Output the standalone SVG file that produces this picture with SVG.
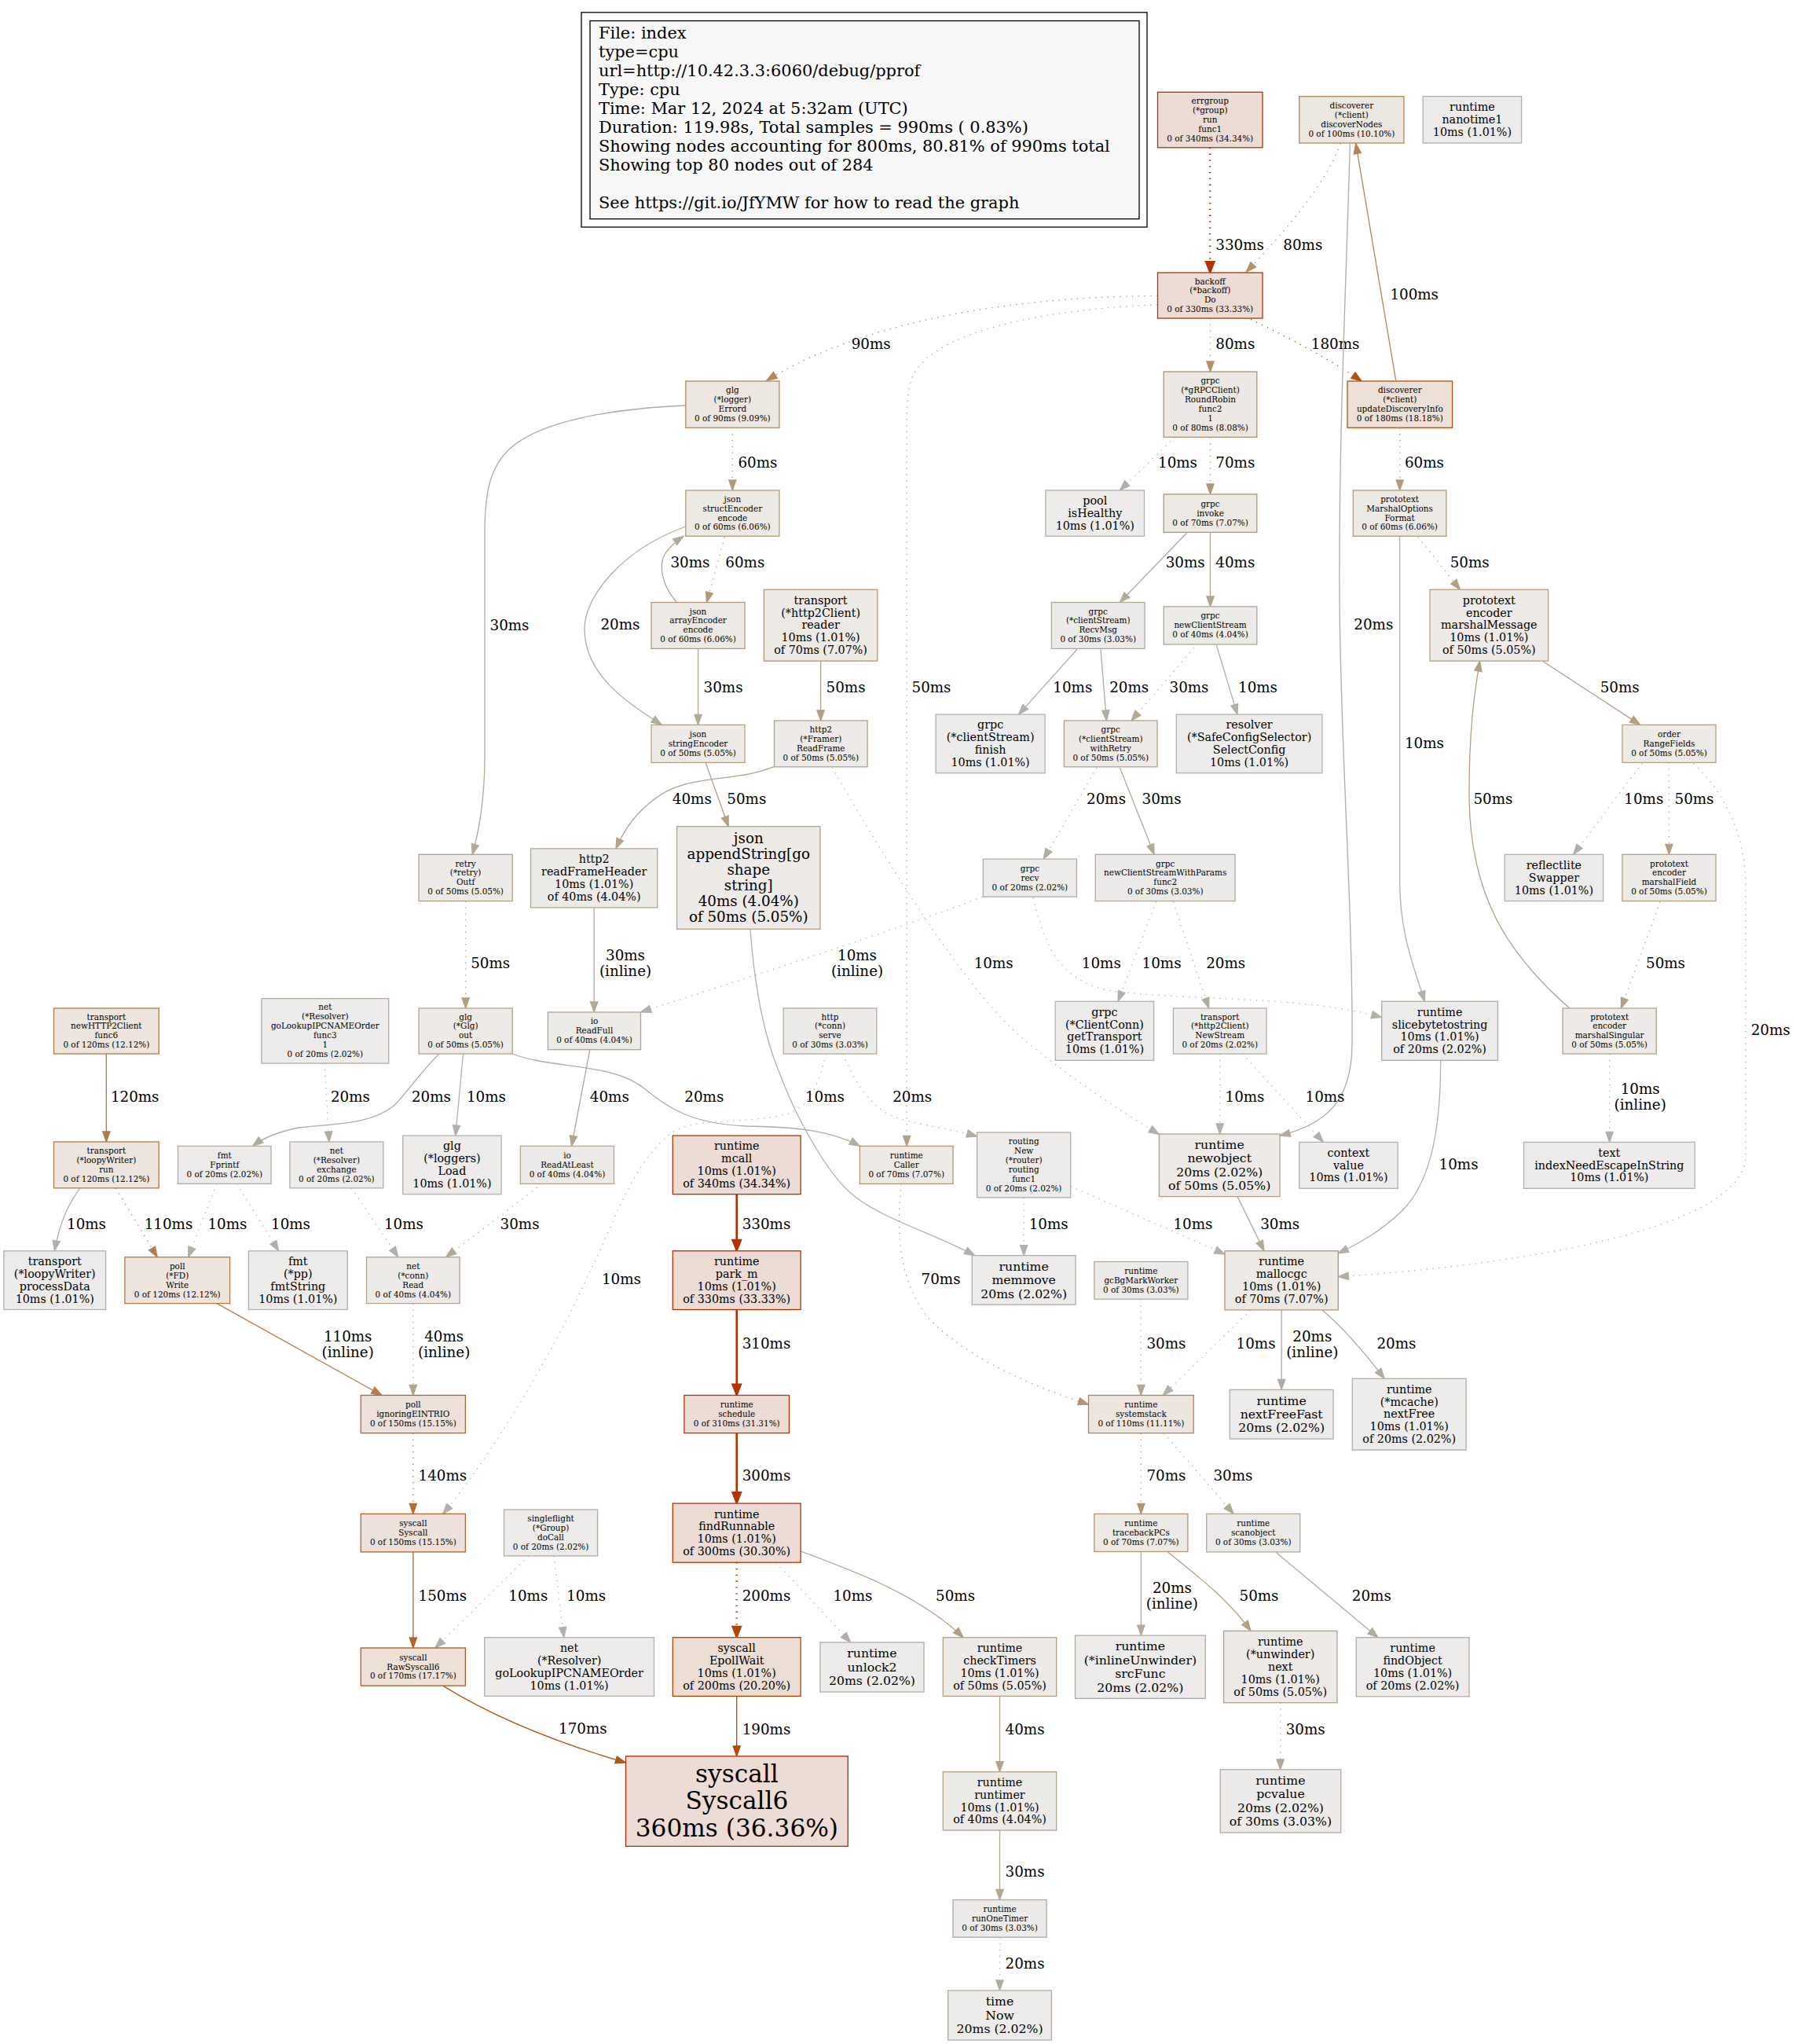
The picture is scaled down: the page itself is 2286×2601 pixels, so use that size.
<svg xmlns="http://www.w3.org/2000/svg" width="2286" height="2601" viewBox="0 0 2286 2601">
<style>
text{font-family:"DejaVu Serif","Liberation Serif",serif;fill:#000;stroke:none;text-anchor:middle}
.lg{font-size:20.9px;text-anchor:start}
.f8{font-size:10.45px}.f11{font-size:14.3px}.f12{font-size:15.7px}.f14{font-size:18.3px}.f24{font-size:31.2px}
.el{font-size:18.3px;text-anchor:start}.elm{font-size:18.3px;text-anchor:middle}
rect{stroke-width:1.3}
.e{fill:none;stroke-width:1.3}.b{stroke-width:2.6}.d{stroke-dasharray:1.3 6.5}
.c10{fill:#edeceb;stroke:#b2b0a9}.c20{fill:#edecea;stroke:#b2aca0}.c30{fill:#edebe9;stroke:#b2a997}.c40{fill:#edebe8;stroke:#b2a48e}
.c50{fill:#edeae7;stroke:#b2a085}.c60{fill:#edeae5;stroke:#b29b7c}.c70{fill:#ede9e4;stroke:#b29573}.c80{fill:#ede8e3;stroke:#b2906a}
.c90{fill:#ede7e2;stroke:#b28a61}.c100{fill:#ede7e1;stroke:#b28558}.c110{fill:#ede6df;stroke:#b27f4f}.c120{fill:#ede5de;stroke:#b27946}
.c150{fill:#ede2db;stroke:#b2652b}.c170{fill:#ede1d8;stroke:#b25819}.c180{fill:#ede0d7;stroke:#b25110}.c200{fill:#edded5;stroke:#b24400}
.c300{fill:#eddcd5;stroke:#b23500}.c310{fill:#eddcd5;stroke:#b23400}.c330{fill:#eddcd5;stroke:#b23200}.c340{fill:#eddbd5;stroke:#b23000}.c360{fill:#eddbd5;stroke:#b22e00}
.s10{stroke:#b2b0a9}.s20{stroke:#b2aca0}.s30{stroke:#b2a997}.s40{stroke:#b2a48e}.s50{stroke:#b2a085}.s60{stroke:#b29b7c}.s70{stroke:#b29573}
.s80{stroke:#b2906a}.s90{stroke:#b28a61}.s100{stroke:#b28558}.s110{stroke:#b27f4f}.s120{stroke:#b27946}.s140{stroke:#b26c34}.s150{stroke:#b2652b}
.s170{stroke:#b25819}.s180{stroke:#b25110}.s190{stroke:#b24a07}.s200{stroke:#b24400}.s300{stroke:#b23500}.s310{stroke:#b23400}.s330{stroke:#b23200}
</style>
<defs>
<marker id="a10" markerUnits="userSpaceOnUse" markerWidth="16" markerHeight="12" refX="13" refY="5" orient="auto" overflow="visible"><path d="M0,0.4 L13,5 L0,9.6 z" fill="#b2b0a9" stroke="#b2b0a9" stroke-width="1.3"/></marker>
<marker id="a20" markerUnits="userSpaceOnUse" markerWidth="16" markerHeight="12" refX="13" refY="5" orient="auto" overflow="visible"><path d="M0,0.4 L13,5 L0,9.6 z" fill="#b2aca0" stroke="#b2aca0" stroke-width="1.3"/></marker>
<marker id="a30" markerUnits="userSpaceOnUse" markerWidth="16" markerHeight="12" refX="13" refY="5" orient="auto" overflow="visible"><path d="M0,0.4 L13,5 L0,9.6 z" fill="#b2a997" stroke="#b2a997" stroke-width="1.3"/></marker>
<marker id="a40" markerUnits="userSpaceOnUse" markerWidth="16" markerHeight="12" refX="13" refY="5" orient="auto" overflow="visible"><path d="M0,0.4 L13,5 L0,9.6 z" fill="#b2a48e" stroke="#b2a48e" stroke-width="1.3"/></marker>
<marker id="a50" markerUnits="userSpaceOnUse" markerWidth="16" markerHeight="12" refX="13" refY="5" orient="auto" overflow="visible"><path d="M0,0.4 L13,5 L0,9.6 z" fill="#b2a085" stroke="#b2a085" stroke-width="1.3"/></marker>
<marker id="a60" markerUnits="userSpaceOnUse" markerWidth="16" markerHeight="12" refX="13" refY="5" orient="auto" overflow="visible"><path d="M0,0.4 L13,5 L0,9.6 z" fill="#b29b7c" stroke="#b29b7c" stroke-width="1.3"/></marker>
<marker id="a70" markerUnits="userSpaceOnUse" markerWidth="16" markerHeight="12" refX="13" refY="5" orient="auto" overflow="visible"><path d="M0,0.4 L13,5 L0,9.6 z" fill="#b29573" stroke="#b29573" stroke-width="1.3"/></marker>
<marker id="a80" markerUnits="userSpaceOnUse" markerWidth="16" markerHeight="12" refX="13" refY="5" orient="auto" overflow="visible"><path d="M0,0.4 L13,5 L0,9.6 z" fill="#b2906a" stroke="#b2906a" stroke-width="1.3"/></marker>
<marker id="a90" markerUnits="userSpaceOnUse" markerWidth="16" markerHeight="12" refX="13" refY="5" orient="auto" overflow="visible"><path d="M0,0.4 L13,5 L0,9.6 z" fill="#b28a61" stroke="#b28a61" stroke-width="1.3"/></marker>
<marker id="a100" markerUnits="userSpaceOnUse" markerWidth="16" markerHeight="12" refX="13" refY="5" orient="auto" overflow="visible"><path d="M0,0.4 L13,5 L0,9.6 z" fill="#b28558" stroke="#b28558" stroke-width="1.3"/></marker>
<marker id="a110" markerUnits="userSpaceOnUse" markerWidth="16" markerHeight="12" refX="13" refY="5" orient="auto" overflow="visible"><path d="M0,0.4 L13,5 L0,9.6 z" fill="#b27f4f" stroke="#b27f4f" stroke-width="1.3"/></marker>
<marker id="a120" markerUnits="userSpaceOnUse" markerWidth="16" markerHeight="12" refX="13" refY="5" orient="auto" overflow="visible"><path d="M0,0.4 L13,5 L0,9.6 z" fill="#b27946" stroke="#b27946" stroke-width="1.3"/></marker>
<marker id="a140" markerUnits="userSpaceOnUse" markerWidth="16" markerHeight="12" refX="13" refY="5" orient="auto" overflow="visible"><path d="M0,0.4 L13,5 L0,9.6 z" fill="#b26c34" stroke="#b26c34" stroke-width="1.3"/></marker>
<marker id="a150" markerUnits="userSpaceOnUse" markerWidth="16" markerHeight="12" refX="13" refY="5" orient="auto" overflow="visible"><path d="M0,0.4 L13,5 L0,9.6 z" fill="#b2652b" stroke="#b2652b" stroke-width="1.3"/></marker>
<marker id="a170" markerUnits="userSpaceOnUse" markerWidth="16" markerHeight="12" refX="13" refY="5" orient="auto" overflow="visible"><path d="M0,0.4 L13,5 L0,9.6 z" fill="#b25819" stroke="#b25819" stroke-width="1.3"/></marker>
<marker id="a180" markerUnits="userSpaceOnUse" markerWidth="16" markerHeight="12" refX="13" refY="5" orient="auto" overflow="visible"><path d="M0,0.4 L13,5 L0,9.6 z" fill="#b25110" stroke="#b25110" stroke-width="1.3"/></marker>
<marker id="a190" markerUnits="userSpaceOnUse" markerWidth="16" markerHeight="12" refX="13" refY="5" orient="auto" overflow="visible"><path d="M0,0.4 L13,5 L0,9.6 z" fill="#b24a07" stroke="#b24a07" stroke-width="1.3"/></marker>
<marker id="a200" markerUnits="userSpaceOnUse" markerWidth="18" markerHeight="14" refX="14" refY="6" orient="auto" overflow="visible"><path d="M0,0.5 L14,6 L0,11.5 z" fill="#b24400" stroke="#b24400" stroke-width="2"/></marker>
<marker id="a300" markerUnits="userSpaceOnUse" markerWidth="18" markerHeight="14" refX="14" refY="6" orient="auto" overflow="visible"><path d="M0,0.5 L14,6 L0,11.5 z" fill="#b23500" stroke="#b23500" stroke-width="2"/></marker>
<marker id="a310" markerUnits="userSpaceOnUse" markerWidth="18" markerHeight="14" refX="14" refY="6" orient="auto" overflow="visible"><path d="M0,0.5 L14,6 L0,11.5 z" fill="#b23400" stroke="#b23400" stroke-width="2"/></marker>
<marker id="a330" markerUnits="userSpaceOnUse" markerWidth="18" markerHeight="14" refX="14" refY="6" orient="auto" overflow="visible"><path d="M0,0.5 L14,6 L0,11.5 z" fill="#b23200" stroke="#b23200" stroke-width="2"/></marker>
</defs>
<rect x="0" y="0" width="2286" height="2601" fill="#fff" stroke="none"/>
<g id="legend">
<rect x="740" y="15.8" width="720" height="273.2" fill="#fff" stroke="#000"/>
<rect x="751" y="26.5" width="699" height="252.1" fill="#f8f8f8" stroke="#000"/>
<text class="lg" x="762" y="49"><tspan x="762">File: index</tspan><tspan x="762" dy="24.05">type=cpu</tspan><tspan x="762" dy="24.05">url=http://10.42.3.3:6060/debug/pprof</tspan><tspan x="762" dy="24.05">Type: cpu</tspan><tspan x="762" dy="24.05">Time: Mar 12, 2024 at 5:32am (UTC)</tspan><tspan x="762" dy="24.05">Duration: 119.98s, Total samples = 990ms ( 0.83%)</tspan><tspan x="762" dy="24.05">Showing nodes accounting for 800ms, 80.81% of 990ms total</tspan><tspan x="762" dy="24.05">Showing top 80 nodes out of 284</tspan><tspan x="762" dy="48.1">See https://git.io/JfYMW for how to read the graph</tspan></text>
</g>
<g id="edges">
<g id="e1"><path class="e s330 b d" d="M1540.25,187.8 L1540.25,347" marker-end="url(#a330)"/><text class="el" x="1547.3" y="318.3">330ms</text></g>
<g id="e2"><path class="e s80 d" d="M1706.2,182.4 C1690,230 1640,290 1586.2,346.1" marker-end="url(#a80)"/><text class="el" x="1633.3" y="318.3">80ms</text></g>
<g id="e3"><path class="e s180 d" d="M1592,406.3 C1640,430 1690,455 1733,485" marker-end="url(#a180)"/><text class="el" x="1668.8" y="444.4">180ms</text></g>
<g id="e4"><path class="e s100" d="M1776.7,484.2 L1725.7,182.4" marker-end="url(#a100)"/><text class="el" x="1769.4" y="380.9">100ms</text></g>
<g id="e5"><path class="e s20" d="M1718.4,182.4 C1712,400 1704,560 1705,760 C1706,950 1722,1150 1721,1330 C1720,1400 1690,1430 1629,1445" marker-end="url(#a20)"/><text class="el" x="1723.3" y="801.3">20ms</text></g>
<g id="e6"><path class="e s90 d" d="M1473.5,376.4 C1250,378 1080,420 975.8,484.2" marker-end="url(#a90)"/><text class="el" x="1083.7" y="444.4">90ms</text></g>
<g id="e7"><path class="e s50 d" d="M1473.5,387.6 C1300,395 1170,430 1158,490 C1155,505 1154.2,520 1154.2,540 L1154.2,1458.4" marker-end="url(#a50)"/><text class="el" x="1160.5" y="880.5">50ms</text></g>
<g id="e8"><path class="e s80 d" d="M1540.5,405 L1540.5,473" marker-end="url(#a80)"/><text class="el" x="1547.3" y="444.4">80ms</text></g>
<g id="e9"><path class="e s60 d" d="M932.35,544.3 L932.35,623.9" marker-end="url(#a60)"/><text class="el" x="939.4" y="595.3">60ms</text></g>
<g id="e10"><path class="e s30" d="M872.8,516 C780,520 690,535 650,570 C622,595 617,630 617,680 L617,960 C617,1010 612,1050 601.2,1087.3" marker-end="url(#a30)"/><text class="el" x="623.5" y="801.7">30ms</text></g>
<g id="e11"><path class="e s10 d" d="M1495.8,556.3 L1425.4,623.9" marker-end="url(#a10)"/><text class="el" x="1474" y="595.3">10ms</text></g>
<g id="e12"><path class="e s70 d" d="M1540.5,556.3 L1540.5,628.9" marker-end="url(#a70)"/><text class="el" x="1547.3" y="595.3">70ms</text></g>
<g id="e13"><path class="e s60 d" d="M1781.7,544.3 L1781.7,623.9" marker-end="url(#a60)"/><text class="el" x="1787.9" y="595.3">60ms</text></g>
<g id="e14"><path class="e s60 d" d="M922.4,683.2 L899.5,766.5" marker-end="url(#a60)"/><text class="el" x="923.3" y="722.1">60ms</text></g>
<g id="e15"><path class="e s30" d="M861.6,766.5 C842,745 836,715 850,700 C857,692 863,687 869.9,682.3" marker-end="url(#a30)"/><text class="el" x="853.4" y="722.1">30ms</text></g>
<g id="e16"><path class="e s20" d="M872.8,670 C790,700 744,760 744,800 C744,860 800,895 842.2,922.4" marker-end="url(#a20)"/><text class="el" x="764.4" y="801.3">20ms</text></g>
<g id="e17"><path class="e s30" d="M888.55,825.4 L888.55,922.4" marker-end="url(#a30)"/><text class="el" x="895.6" y="880.5">30ms</text></g>
<g id="e18"><path class="e s50" d="M1044.6,841.1 L1044.6,917" marker-end="url(#a50)"/><text class="el" x="1051.6" y="880.5">50ms</text></g>
<g id="e19"><path class="e s50" d="M898.1,970.4 L927.2,1051.7" marker-end="url(#a50)"/><text class="el" x="925.3" y="1023.1">50ms</text></g>
<g id="e20"><path class="e s40" d="M985.5,975.4 C940,995 880,985 840,1012 C810,1032 795,1055 783.9,1079.9" marker-end="url(#a40)"/><text class="el" x="855.8" y="1023.1">40ms</text></g>
<g id="e21"><path class="e s10 d" d="M1059.4,976.7 C1130,1100 1230,1260 1300,1320 C1360,1370 1420,1410 1475.4,1443.5" marker-end="url(#a10)"/><text class="el" x="1239.7" y="1232.4">10ms</text></g>
<g id="e22"><path class="e s30" d="M1510.4,678.2 L1425.4,766.5" marker-end="url(#a30)"/><text class="el" x="1483.7" y="722.1">30ms</text></g>
<g id="e23"><path class="e s40" d="M1540.5,677.4 L1540.5,771.9" marker-end="url(#a40)"/><text class="el" x="1547.3" y="722.1">40ms</text></g>
<g id="e24"><path class="e s50 d" d="M1804.9,683.2 L1858.4,750.3" marker-end="url(#a50)"/><text class="el" x="1845.7" y="722.1">50ms</text></g>
<g id="e25"><path class="e s10" d="M1781.6,682.3 L1781.6,1120 C1781.6,1190 1800,1230 1813.2,1274.3" marker-end="url(#a10)"/><text class="el" x="1787.9" y="952.2">10ms</text></g>
<g id="e26"><path class="e s10" d="M1371,826.2 L1296.6,909.1" marker-end="url(#a10)"/><text class="el" x="1340.3" y="880.5">10ms</text></g>
<g id="e27"><path class="e s20" d="M1401,826.2 L1408.4,917" marker-end="url(#a20)"/><text class="el" x="1412.2" y="880.5">20ms</text></g>
<g id="e28"><path class="e s30 d" d="M1520.1,824.1 L1440,917" marker-end="url(#a30)"/><text class="el" x="1488.5" y="880.5">30ms</text></g>
<g id="e29"><path class="e s10" d="M1548.3,820.8 L1575,909.1" marker-end="url(#a10)"/><text class="el" x="1576" y="880.5">10ms</text></g>
<g id="e30"><path class="e s50" d="M1963.8,841.5 L2087.7,922.4" marker-end="url(#a50)"/><text class="el" x="2036.7" y="880.5">50ms</text></g>
<g id="e31"><path class="e s50" d="M1997.8,1283 C1920,1215 1870,1140 1870,1010 C1870,930 1876,885 1883.6,841.1" marker-end="url(#a50)"/><text class="el" x="1875.4" y="1023.1">50ms</text></g>
<g id="e32"><path class="e s20 d" d="M1396.2,976.7 L1328.2,1093.1" marker-end="url(#a20)"/><text class="el" x="1383.1" y="1023.1">20ms</text></g>
<g id="e33"><path class="e s30" d="M1425.4,976.7 L1469.1,1087.3" marker-end="url(#a30)"/><text class="el" x="1453.6" y="1023.1">30ms</text></g>
<g id="e34"><path class="e s10 d" d="M2090.2,971 L2002.7,1087.3" marker-end="url(#a10)"/><text class="el" x="2067.3" y="1023.1">10ms</text></g>
<g id="e35"><path class="e s50 d" d="M2124.45,970.4 L2124.45,1087.3" marker-end="url(#a50)"/><text class="el" x="2131.5" y="1023.1">50ms</text></g>
<g id="e36"><path class="e s20 d" d="M2155.8,971.3 C2195,1010 2222,1060 2222,1130 L2222,1470 C2222,1570 1900,1612 1703.3,1624.6" marker-end="url(#a20)"/><text class="el" x="2228.7" y="1317">20ms</text></g>
<g id="e37"><path class="e s50 d" d="M2113,1147.5 L2063.4,1283" marker-end="url(#a50)"/><text class="el" x="2095" y="1232.4">50ms</text></g>
<g id="e38"><path class="e s10 d" d="M1250.4,1141.2 C1150,1180 950,1245 815.5,1288" marker-end="url(#a10)"/><text class="elm" x="1091" y="1222.4">10ms<tspan x="1091" dy="20">(inline)</tspan></text></g>
<g id="e39"><path class="e s10 d" d="M1315,1142.5 C1330,1200 1345,1255 1430,1263 C1550,1274 1660,1268 1758.7,1294.6" marker-end="url(#a10)"/><text class="el" x="1376.8" y="1232.4">10ms</text></g>
<g id="e40"><path class="e s10 d" d="M1471.5,1147.5 L1423,1274.3" marker-end="url(#a10)"/><text class="el" x="1453.6" y="1232.4">10ms</text></g>
<g id="e41"><path class="e s20 d" d="M1493.4,1147.5 L1538.6,1283" marker-end="url(#a20)"/><text class="el" x="1535.2" y="1232.4">20ms</text></g>
<g id="e42"><path class="e s50 d" d="M592.65,1146.6 L592.65,1283" marker-end="url(#a50)"/><text class="el" x="599.2" y="1232.4">50ms</text></g>
<g id="e43"><path class="e s30" d="M756.15,1154.9 L756.15,1288" marker-end="url(#a30)"/><text class="elm" x="796" y="1222.4">30ms<tspan x="796" dy="20">(inline)</tspan></text></g>
<g id="e44"><path class="e s10" d="M955,1182.7 C960,1250 970,1310 990,1360 C1020,1440 1060,1500 1085,1520 C1120,1550 1190,1570 1240.7,1597.6" marker-end="url(#a10)"/><text class="el" x="1024.9" y="1401.9">10ms</text></g>
<g id="e45"><path class="e s120" d="M135.35,1341 L135.35,1453" marker-end="url(#a120)"/><text class="el" x="140.9" y="1401.9">120ms</text></g>
<g id="e46"><path class="e s20 d" d="M413.1,1353.1 L418.9,1453" marker-end="url(#a20)"/><text class="el" x="420.9" y="1401.9">20ms</text></g>
<g id="e47"><path class="e s20" d="M558.9,1341 C530,1370 515,1395 500,1408 C470,1432 420,1430 380,1435 C355,1440 335,1448 321.7,1458.4" marker-end="url(#a20)"/><text class="el" x="523.9" y="1401.9">20ms</text></g>
<g id="e48"><path class="e s10" d="M589.5,1341 L579.8,1445.1" marker-end="url(#a10)"/><text class="el" x="593.9" y="1401.9">10ms</text></g>
<g id="e49"><path class="e s20" d="M652.2,1341 C700,1360 780,1352 820,1385 C850,1410 880,1430 950,1433 C1020,1434 1060,1440 1094.4,1458.4" marker-end="url(#a20)"/><text class="el" x="871.3" y="1401.9">20ms</text></g>
<g id="e50"><path class="e s40" d="M750.8,1335.7 L727.5,1458.4" marker-end="url(#a40)"/><text class="el" x="750.8" y="1401.9">40ms</text></g>
<g id="e51"><path class="e s20 d" d="M1073,1341 C1090,1380 1110,1415 1150,1425 C1190,1435 1215,1438 1243.6,1446" marker-end="url(#a20)"/><text class="el" x="1136.2" y="1401.9">20ms</text></g>
<g id="e52"><path class="e s10 d" d="M1051.6,1341 C1040,1385 1030,1410 1000,1418 C940,1432 880,1420 850,1445 C800,1490 780,1560 750,1620 C700,1730 620,1860 563.7,1926.4" marker-end="url(#a10)"/><text class="el" x="765.9" y="1634.1">10ms</text></g>
<g id="e53"><path class="e s10 d" d="M1552.7,1341 L1552.7,1443" marker-end="url(#a10)"/><text class="el" x="1559.5" y="1401.9">10ms</text></g>
<g id="e54"><path class="e s10 d" d="M1581.3,1341 L1684.4,1453.4" marker-end="url(#a10)"/><text class="el" x="1661.5" y="1401.9">10ms</text></g>
<g id="e55"><path class="e s10 d" d="M2048.65,1341 L2048.65,1453.4" marker-end="url(#a10)"/><text class="elm" x="2087.7" y="1392.4">10ms<tspan x="2087.7" dy="20">(inline)</tspan></text></g>
<g id="e56"><path class="e s10" d="M1833.6,1349.3 C1834,1440 1820,1510 1780,1545 C1755,1568 1730,1582 1703.3,1595" marker-end="url(#a10)"/><text class="el" x="1831.6" y="1488.2">10ms</text></g>
<g id="e57"><path class="e s10" d="M102,1511.8 C88,1530 76,1555 69.5,1591.8" marker-end="url(#a10)"/><text class="el" x="85" y="1563.6">10ms</text></g>
<g id="e58"><path class="e s110 d" d="M147.3,1511.8 L200.2,1599.7" marker-end="url(#a110)"/><text class="el" x="183.7" y="1563.6">110ms</text></g>
<g id="e59"><path class="e s10 d" d="M275.5,1506.4 L239.6,1599.7" marker-end="url(#a10)"/><text class="el" x="264.4" y="1563.6">10ms</text></g>
<g id="e60"><path class="e s10 d" d="M301.3,1506.4 L354.8,1591.8" marker-end="url(#a10)"/><text class="el" x="345" y="1563.6">10ms</text></g>
<g id="e61"><path class="e s10 d" d="M447.1,1511.8 L506.9,1599.7" marker-end="url(#a10)"/><text class="el" x="488.9" y="1563.6">10ms</text></g>
<g id="e62"><path class="e s30 d" d="M690.1,1506.4 L567.6,1599.7" marker-end="url(#a30)"/><text class="el" x="636.6" y="1563.6">30ms</text></g>
<g id="e63"><path class="e s330 b" d="M937.7,1519.7 L937.7,1591.8" marker-end="url(#a330)"/><text class="el" x="944.7" y="1563.6">330ms</text></g>
<g id="e64"><path class="e s10 d" d="M1303.15,1523.9 L1303.15,1597.6" marker-end="url(#a10)"/><text class="el" x="1309.7" y="1563.6">10ms</text></g>
<g id="e65"><path class="e s10 d" d="M1362.7,1509.4 L1559,1596" marker-end="url(#a10)"/><text class="el" x="1493.4" y="1563.6">10ms</text></g>
<g id="e66"><path class="e s30" d="M1575,1522.6 L1609,1591.8" marker-end="url(#a30)"/><text class="el" x="1604.2" y="1563.6">30ms</text></g>
<g id="e67"><path class="e s70 d" d="M1147.4,1506.4 C1140,1570 1145,1630 1180,1675 C1220,1720 1300,1760 1385.5,1787.1" marker-end="url(#a70)"/><text class="el" x="1172.6" y="1634.1">70ms</text></g>
<g id="e68"><path class="e s110" d="M276,1658.6 L486,1775.5" marker-end="url(#a110)"/><text class="elm" x="442.7" y="1706.6">110ms<tspan x="442.7" dy="20">(inline)</tspan></text></g>
<g id="e69"><path class="e s40 d" d="M525.8,1658.6 L525.8,1775.5" marker-end="url(#a40)"/><text class="elm" x="565.2" y="1706.6">40ms<tspan x="565.2" dy="20">(inline)</tspan></text></g>
<g id="e70"><path class="e s310 b" d="M937.7,1666.5 L937.7,1775.5" marker-end="url(#a310)"/><text class="el" x="944.7" y="1716.2">310ms</text></g>
<g id="e71"><path class="e s30 d" d="M1452.35,1653.2 L1452.35,1775.5" marker-end="url(#a30)"/><text class="el" x="1459.4" y="1716.2">30ms</text></g>
<g id="e72"><path class="e s10 d" d="M1592,1666.9 L1480.3,1775.5" marker-end="url(#a10)"/><text class="el" x="1573.6" y="1716.2">10ms</text></g>
<g id="e73"><path class="e s20" d="M1631.15,1666.9 L1631.15,1768.4" marker-end="url(#a20)"/><text class="elm" x="1670.3" y="1706.6">20ms<tspan x="1670.3" dy="20">(inline)</tspan></text></g>
<g id="e74"><path class="e s20" d="M1683,1666.9 C1710,1690 1740,1725 1762.1,1754.3" marker-end="url(#a20)"/><text class="el" x="1752.4" y="1716.2">20ms</text></g>
<g id="e75"><path class="e s140 d" d="M525.85,1823.6 L525.85,1926.4" marker-end="url(#a140)"/><text class="el" x="532.6" y="1884.1">140ms</text></g>
<g id="e76"><path class="e s300 b" d="M937.7,1823.6 L937.7,1913.1" marker-end="url(#a300)"/><text class="el" x="944.7" y="1884.1">300ms</text></g>
<g id="e77"><path class="e s70 d" d="M1452.35,1823.6 L1452.35,1926.4" marker-end="url(#a70)"/><text class="el" x="1459.4" y="1884.1">70ms</text></g>
<g id="e78"><path class="e s30 d" d="M1481.3,1823.6 L1570.2,1926.4" marker-end="url(#a30)"/><text class="el" x="1544.4" y="1884.1">30ms</text></g>
<g id="e79"><path class="e s150" d="M525.85,1974.9 L525.85,2097" marker-end="url(#a150)"/><text class="el" x="532.6" y="2037.1">150ms</text></g>
<g id="e80"><path class="e s10 d" d="M673,1979.9 L554,2097" marker-end="url(#a10)"/><text class="el" x="647.3" y="2037.1">10ms</text></g>
<g id="e81"><path class="e s10 d" d="M704.7,1979.9 L717.8,2083.7" marker-end="url(#a10)"/><text class="el" x="721.2" y="2037.1">10ms</text></g>
<g id="e82"><path class="e s200 b d" d="M937.7,1988.2 L937.7,2083.7" marker-end="url(#a200)"/><text class="el" x="944.7" y="2037.1">200ms</text></g>
<g id="e83"><path class="e s10 d" d="M988,1988.2 L1082.7,2089.9" marker-end="url(#a10)"/><text class="el" x="1060.4" y="2037.1">10ms</text></g>
<g id="e84"><path class="e s50" d="M1019.1,1974 C1090,2000 1170,2030 1226.1,2083.7" marker-end="url(#a50)"/><text class="el" x="1191.1" y="2037.1">50ms</text></g>
<g id="e85"><path class="e s20" d="M1452.35,1974.5 L1452.35,2081.2" marker-end="url(#a20)"/><text class="elm" x="1491.9" y="2027.2">20ms<tspan x="1491.9" dy="20">(inline)</tspan></text></g>
<g id="e86"><path class="e s50" d="M1486,1974.5 C1510,1995 1560,2030 1592,2075.4" marker-end="url(#a50)"/><text class="el" x="1577.5" y="2037.1">50ms</text></g>
<g id="e87"><path class="e s20" d="M1623.6,1974.9 L1753.9,2083.7" marker-end="url(#a20)"/><text class="el" x="1720.8" y="2037.1">20ms</text></g>
<g id="e88"><path class="e s170" d="M563.7,2145.1 C620,2180 700,2215 796.5,2243" marker-end="url(#a170)"/><text class="el" x="711" y="2205.7">170ms</text></g>
<g id="e89"><path class="e s190" d="M937.7,2158.4 L937.7,2234.8" marker-end="url(#a190)"/><text class="el" x="944.7" y="2206.6">190ms</text></g>
<g id="e90"><path class="e s40" d="M1272.5,2158.4 L1272.5,2254.7" marker-end="url(#a40)"/><text class="el" x="1279.6" y="2206.6">40ms</text></g>
<g id="e91"><path class="e s30 d" d="M1629.7,2166.7 L1629.7,2251.8" marker-end="url(#a30)"/><text class="el" x="1636.7" y="2206.6">30ms</text></g>
<g id="e92"><path class="e s30" d="M1272.5,2329 L1272.5,2417.5" marker-end="url(#a30)"/><text class="el" x="1279.6" y="2388.4">30ms</text></g>
<g id="e93"><path class="e s20 d" d="M1272.5,2465.2 L1272.5,2532.9" marker-end="url(#a20)"/><text class="el" x="1279.6" y="2504.6">20ms</text></g>
</g>
<g id="nodes">
<g id="n1"><rect class="c340" x="1473.5" y="117.3" width="133.5" height="70.5"/><text class="f8" y="132.1"><tspan x="1540.25">errgroup</tspan><tspan x="1540.25" dy="11.95">(*group)</tspan><tspan x="1540.25" dy="11.95">run</tspan><tspan x="1540.25" dy="11.95">func1</tspan><tspan x="1540.25" dy="11.95">0 of 340ms (34.34%)</tspan></text></g>
<g id="n2"><rect class="c100" x="1653.8" y="122.7" width="133.1" height="59.3"/><text class="f8" y="137.9"><tspan x="1720.35">discoverer</tspan><tspan x="1720.35" dy="11.95">(*client)</tspan><tspan x="1720.35" dy="11.95">discoverNodes</tspan><tspan x="1720.35" dy="11.95">0 of 100ms (10.10%)</tspan></text></g>
<g id="n3"><rect class="c10" x="1811.2" y="122.7" width="125.4" height="59.3"/><text class="f11" y="141.15"><tspan x="1873.9">runtime</tspan><tspan x="1873.9" dy="15.9">nanotime1</tspan><tspan x="1873.9" dy="15.9">10ms (1.01%)</tspan></text></g>
<g id="n4"><rect class="c330" x="1473.5" y="347" width="133.5" height="58"/><text class="f8" y="361.5"><tspan x="1540.25">backoff</tspan><tspan x="1540.25" dy="11.95">(*backoff)</tspan><tspan x="1540.25" dy="11.95">Do</tspan><tspan x="1540.25" dy="11.95">0 of 330ms (33.33%)</tspan></text></g>
<g id="n5"><rect class="c90" x="872.8" y="485" width="119.1" height="59.3"/><text class="f8" y="500.2"><tspan x="932.35">glg</tspan><tspan x="932.35" dy="11.95">(*logger)</tspan><tspan x="932.35" dy="11.95">Errord</tspan><tspan x="932.35" dy="11.95">0 of 90ms (9.09%)</tspan></text></g>
<g id="n6"><rect class="c80" x="1481.2" y="473" width="118.6" height="83.3"/><text class="f8" y="488.2"><tspan x="1540.5">grpc</tspan><tspan x="1540.5" dy="11.95">(*gRPCClient)</tspan><tspan x="1540.5" dy="11.95">RoundRobin</tspan><tspan x="1540.5" dy="11.95">func2</tspan><tspan x="1540.5" dy="11.95">1</tspan><tspan x="1540.5" dy="11.95">0 of 80ms (8.08%)</tspan></text></g>
<g id="n7"><rect class="c180" x="1715" y="485" width="133.6" height="59.3"/><text class="f8" y="500.2"><tspan x="1781.8">discoverer</tspan><tspan x="1781.8" dy="11.95">(*client)</tspan><tspan x="1781.8" dy="11.95">updateDiscoveryInfo</tspan><tspan x="1781.8" dy="11.95">0 of 180ms (18.18%)</tspan></text></g>
<g id="n8"><rect class="c10" x="1331" y="623.9" width="125.5" height="58.4"/><text class="f11" y="641.9"><tspan x="1393.75">pool</tspan><tspan x="1393.75" dy="15.9">isHealthy</tspan><tspan x="1393.75" dy="15.9">10ms (1.01%)</tspan></text></g>
<g id="n9"><rect class="c60" x="872.8" y="623.9" width="119.1" height="58.4"/><text class="f8" y="638.6"><tspan x="932.35">json</tspan><tspan x="932.35" dy="11.95">structEncoder</tspan><tspan x="932.35" dy="11.95">encode</tspan><tspan x="932.35" dy="11.95">0 of 60ms (6.06%)</tspan></text></g>
<g id="n10"><rect class="c70" x="1481.2" y="628.9" width="118.6" height="48.5"/><text class="f8" y="644.65"><tspan x="1540.5">grpc</tspan><tspan x="1540.5" dy="11.95">invoke</tspan><tspan x="1540.5" dy="11.95">0 of 70ms (7.07%)</tspan></text></g>
<g id="n11"><rect class="c60" x="1722.3" y="623.9" width="118.6" height="58.4"/><text class="f8" y="638.6"><tspan x="1781.6">prototext</tspan><tspan x="1781.6" dy="11.95">MarshalOptions</tspan><tspan x="1781.6" dy="11.95">Format</tspan><tspan x="1781.6" dy="11.95">0 of 60ms (6.06%)</tspan></text></g>
<g id="n12"><rect class="c60" x="829" y="766.5" width="119.1" height="58.9"/><text class="f8" y="781.5"><tspan x="888.55">json</tspan><tspan x="888.55" dy="11.95">arrayEncoder</tspan><tspan x="888.55" dy="11.95">encode</tspan><tspan x="888.55" dy="11.95">0 of 60ms (6.06%)</tspan></text></g>
<g id="n13"><rect class="c70" x="972.4" y="750.3" width="144.4" height="90.8"/><text class="f11" y="768.6"><tspan x="1044.6">transport</tspan><tspan x="1044.6" dy="15.9">(*http2Client)</tspan><tspan x="1044.6" dy="15.9">reader</tspan><tspan x="1044.6" dy="15.9">10ms (1.01%)</tspan><tspan x="1044.6" dy="15.9">of 70ms (7.07%)</tspan></text></g>
<g id="n14"><rect class="c50" x="829" y="922.4" width="119.1" height="48"/><text class="f8" y="937.9"><tspan x="888.55">json</tspan><tspan x="888.55" dy="11.95">stringEncoder</tspan><tspan x="888.55" dy="11.95">0 of 50ms (5.05%)</tspan></text></g>
<g id="n15"><rect class="c50" x="985.5" y="917" width="118.6" height="58.8"/><text class="f8" y="931.9"><tspan x="1044.8">http2</tspan><tspan x="1044.8" dy="11.95">(*Framer)</tspan><tspan x="1044.8" dy="11.95">ReadFrame</tspan><tspan x="1044.8" dy="11.95">0 of 50ms (5.05%)</tspan></text></g>
<g id="n16"><rect class="c50" x="861.6" y="1051.7" width="182.3" height="130.6"/><text class="f14" y="1073.3"><tspan x="952.75">json</tspan><tspan x="952.75" dy="19.9">appendString[go</tspan><tspan x="952.75" dy="19.9">shape</tspan><tspan x="952.75" dy="19.9">string]</tspan><tspan x="952.75" dy="19.9">40ms (4.04%)</tspan><tspan x="952.75" dy="19.9">of 50ms (5.05%)</tspan></text></g>
<g id="n17"><rect class="c40" x="675.5" y="1079.9" width="161.3" height="75"/><text class="f11" y="1098.25"><tspan x="756.15">http2</tspan><tspan x="756.15" dy="15.9">readFrameHeader</tspan><tspan x="756.15" dy="15.9">10ms (1.01%)</tspan><tspan x="756.15" dy="15.9">of 40ms (4.04%)</tspan></text></g>
<g id="n18"><rect class="c50" x="533.1" y="1087.3" width="119.1" height="59.3"/><text class="f8" y="1102.5"><tspan x="592.65">retry</tspan><tspan x="592.65" dy="11.95">(*retry)</tspan><tspan x="592.65" dy="11.95">Outf</tspan><tspan x="592.65" dy="11.95">0 of 50ms (5.05%)</tspan></text></g>
<g id="n19"><rect class="c30" x="1338.4" y="766.5" width="118.6" height="58.9"/><text class="f8" y="781.5"><tspan x="1397.7">grpc</tspan><tspan x="1397.7" dy="11.95">(*clientStream)</tspan><tspan x="1397.7" dy="11.95">RecvMsg</tspan><tspan x="1397.7" dy="11.95">0 of 30ms (3.03%)</tspan></text></g>
<g id="n20"><rect class="c40" x="1481.2" y="771.9" width="118.6" height="48.1"/><text class="f8" y="787.45"><tspan x="1540.5">grpc</tspan><tspan x="1540.5" dy="11.95">newClientStream</tspan><tspan x="1540.5" dy="11.95">0 of 40ms (4.04%)</tspan></text></g>
<g id="n21"><rect class="c50" x="1820" y="750.3" width="150.6" height="90.8"/><text class="f11" y="768.6"><tspan x="1895.3">prototext</tspan><tspan x="1895.3" dy="15.9">encoder</tspan><tspan x="1895.3" dy="15.9">marshalMessage</tspan><tspan x="1895.3" dy="15.9">10ms (1.01%)</tspan><tspan x="1895.3" dy="15.9">of 50ms (5.05%)</tspan></text></g>
<g id="n22"><rect class="c10" x="1191.1" y="909.1" width="139" height="74.6"/><text class="f11" y="927.25"><tspan x="1260.6">grpc</tspan><tspan x="1260.6" dy="15.9">(*clientStream)</tspan><tspan x="1260.6" dy="15.9">finish</tspan><tspan x="1260.6" dy="15.9">10ms (1.01%)</tspan></text></g>
<g id="n23"><rect class="c50" x="1354.4" y="917" width="118.6" height="58.8"/><text class="f8" y="931.9"><tspan x="1413.7">grpc</tspan><tspan x="1413.7" dy="11.95">(*clientStream)</tspan><tspan x="1413.7" dy="11.95">withRetry</tspan><tspan x="1413.7" dy="11.95">0 of 50ms (5.05%)</tspan></text></g>
<g id="n24"><rect class="c10" x="1497.3" y="909.1" width="185.6" height="74.6"/><text class="f11" y="927.25"><tspan x="1590.1">resolver</tspan><tspan x="1590.1" dy="15.9">(*SafeConfigSelector)</tspan><tspan x="1590.1" dy="15.9">SelectConfig</tspan><tspan x="1590.1" dy="15.9">10ms (1.01%)</tspan></text></g>
<g id="n25"><rect class="c50" x="2064.9" y="922.4" width="119.1" height="48"/><text class="f8" y="937.9"><tspan x="2124.45">order</tspan><tspan x="2124.45" dy="11.95">RangeFields</tspan><tspan x="2124.45" dy="11.95">0 of 50ms (5.05%)</tspan></text></g>
<g id="n26"><rect class="c20" x="1251.4" y="1093.1" width="119" height="48.1"/><text class="f8" y="1108.65"><tspan x="1310.9">grpc</tspan><tspan x="1310.9" dy="11.95">recv</tspan><tspan x="1310.9" dy="11.95">0 of 20ms (2.02%)</tspan></text></g>
<g id="n27"><rect class="c30" x="1394.3" y="1087.3" width="177.8" height="59.3"/><text class="f8" y="1102.5"><tspan x="1483.2">grpc</tspan><tspan x="1483.2" dy="11.95">newClientStreamWithParams</tspan><tspan x="1483.2" dy="11.95">func2</tspan><tspan x="1483.2" dy="11.95">0 of 30ms (3.03%)</tspan></text></g>
<g id="n28"><rect class="c10" x="1915.2" y="1087.3" width="125.4" height="59.3"/><text class="f11" y="1105.75"><tspan x="1977.9">reflectlite</tspan><tspan x="1977.9" dy="15.9">Swapper</tspan><tspan x="1977.9" dy="15.9">10ms (1.01%)</tspan></text></g>
<g id="n29"><rect class="c50" x="2064.9" y="1087.3" width="119.1" height="59.3"/><text class="f8" y="1102.5"><tspan x="2124.45">prototext</tspan><tspan x="2124.45" dy="11.95">encoder</tspan><tspan x="2124.45" dy="11.95">marshalField</tspan><tspan x="2124.45" dy="11.95">0 of 50ms (5.05%)</tspan></text></g>
<g id="n30"><rect class="c120" x="68.5" y="1283" width="133.7" height="58"/><text class="f8" y="1297.5"><tspan x="135.35">transport</tspan><tspan x="135.35" dy="11.95">newHTTP2Client</tspan><tspan x="135.35" dy="11.95">func6</tspan><tspan x="135.35" dy="11.95">0 of 120ms (12.12%)</tspan></text></g>
<g id="n31"><rect class="c20" x="332.9" y="1270.6" width="161.8" height="82.5"/><text class="f8" y="1285.4"><tspan x="413.8">net</tspan><tspan x="413.8" dy="11.95">(*Resolver)</tspan><tspan x="413.8" dy="11.95">goLookupIPCNAMEOrder</tspan><tspan x="413.8" dy="11.95">func3</tspan><tspan x="413.8" dy="11.95">1</tspan><tspan x="413.8" dy="11.95">0 of 20ms (2.02%)</tspan></text></g>
<g id="n32"><rect class="c50" x="533.1" y="1283" width="119.1" height="58"/><text class="f8" y="1297.5"><tspan x="592.65">glg</tspan><tspan x="592.65" dy="11.95">(*Glg)</tspan><tspan x="592.65" dy="11.95">out</tspan><tspan x="592.65" dy="11.95">0 of 50ms (5.05%)</tspan></text></g>
<g id="n33"><rect class="c40" x="697.4" y="1288" width="118.1" height="47.7"/><text class="f8" y="1303.35"><tspan x="756.45">io</tspan><tspan x="756.45" dy="11.95">ReadFull</tspan><tspan x="756.45" dy="11.95">0 of 40ms (4.04%)</tspan></text></g>
<g id="n34"><rect class="c30" x="997.2" y="1283" width="118.6" height="58"/><text class="f8" y="1297.5"><tspan x="1056.5">http</tspan><tspan x="1056.5" dy="11.95">(*conn)</tspan><tspan x="1056.5" dy="11.95">serve</tspan><tspan x="1056.5" dy="11.95">0 of 30ms (3.03%)</tspan></text></g>
<g id="n35"><rect class="c10" x="1343.2" y="1274.3" width="125.4" height="75"/><text class="f11" y="1292.65"><tspan x="1405.9">grpc</tspan><tspan x="1405.9" dy="15.9">(*ClientConn)</tspan><tspan x="1405.9" dy="15.9">getTransport</tspan><tspan x="1405.9" dy="15.9">10ms (1.01%)</tspan></text></g>
<g id="n36"><rect class="c20" x="1493.4" y="1283" width="118.6" height="58"/><text class="f8" y="1297.5"><tspan x="1552.7">transport</tspan><tspan x="1552.7" dy="11.95">(*http2Client)</tspan><tspan x="1552.7" dy="11.95">NewStream</tspan><tspan x="1552.7" dy="11.95">0 of 20ms (2.02%)</tspan></text></g>
<g id="n37"><rect class="c20" x="1758.7" y="1274.3" width="147.8" height="75"/><text class="f11" y="1292.65"><tspan x="1832.6">runtime</tspan><tspan x="1832.6" dy="15.9">slicebytetostring</tspan><tspan x="1832.6" dy="15.9">10ms (1.01%)</tspan><tspan x="1832.6" dy="15.9">of 20ms (2.02%)</tspan></text></g>
<g id="n38"><rect class="c50" x="1989.1" y="1283" width="119.1" height="58"/><text class="f8" y="1297.5"><tspan x="2048.65">prototext</tspan><tspan x="2048.65" dy="11.95">encoder</tspan><tspan x="2048.65" dy="11.95">marshalSingular</tspan><tspan x="2048.65" dy="11.95">0 of 50ms (5.05%)</tspan></text></g>
<g id="n39"><rect class="c120" x="68.5" y="1453" width="133.7" height="58.8"/><text class="f8" y="1467.9"><tspan x="135.35">transport</tspan><tspan x="135.35" dy="11.95">(*loopyWriter)</tspan><tspan x="135.35" dy="11.95">run</tspan><tspan x="135.35" dy="11.95">0 of 120ms (12.12%)</tspan></text></g>
<g id="n40"><rect class="c20" x="226.5" y="1458.4" width="118.5" height="48"/><text class="f8" y="1473.9"><tspan x="285.75">fmt</tspan><tspan x="285.75" dy="11.95">Fprintf</tspan><tspan x="285.75" dy="11.95">0 of 20ms (2.02%)</tspan></text></g>
<g id="n41"><rect class="c20" x="368.9" y="1453" width="119" height="58.8"/><text class="f8" y="1467.9"><tspan x="428.4">net</tspan><tspan x="428.4" dy="11.95">(*Resolver)</tspan><tspan x="428.4" dy="11.95">exchange</tspan><tspan x="428.4" dy="11.95">0 of 20ms (2.02%)</tspan></text></g>
<g id="n42"><rect class="c10" x="512.7" y="1445.1" width="125.4" height="74.6"/><text class="f11" y="1463.25"><tspan x="575.4">glg</tspan><tspan x="575.4" dy="15.9">(*loggers)</tspan><tspan x="575.4" dy="15.9">Load</tspan><tspan x="575.4" dy="15.9">10ms (1.01%)</tspan></text></g>
<g id="n43"><rect class="c40" x="662.4" y="1458.4" width="119.1" height="48"/><text class="f8" y="1473.9"><tspan x="721.95">io</tspan><tspan x="721.95" dy="11.95">ReadAtLeast</tspan><tspan x="721.95" dy="11.95">0 of 40ms (4.04%)</tspan></text></g>
<g id="n44"><rect class="c340" x="856.3" y="1445.1" width="162.8" height="74.6"/><text class="f11" y="1463.25"><tspan x="937.7">runtime</tspan><tspan x="937.7" dy="15.9">mcall</tspan><tspan x="937.7" dy="15.9">10ms (1.01%)</tspan><tspan x="937.7" dy="15.9">of 340ms (34.34%)</tspan></text></g>
<g id="n45"><rect class="c70" x="1094.4" y="1458.4" width="118.6" height="48"/><text class="f8" y="1473.9"><tspan x="1153.7">runtime</tspan><tspan x="1153.7" dy="11.95">Caller</tspan><tspan x="1153.7" dy="11.95">0 of 70ms (7.07%)</tspan></text></g>
<g id="n46"><rect class="c20" x="1243.6" y="1441" width="119.1" height="82.9"/><text class="f8" y="1456"><tspan x="1303.15">routing</tspan><tspan x="1303.15" dy="11.95">New</tspan><tspan x="1303.15" dy="11.95">(*router)</tspan><tspan x="1303.15" dy="11.95">routing</tspan><tspan x="1303.15" dy="11.95">func1</tspan><tspan x="1303.15" dy="11.95">0 of 20ms (2.02%)</tspan></text></g>
<g id="n47"><rect class="c50" x="1475.4" y="1443" width="153.6" height="79.6"/><text class="f12" y="1461.9"><tspan x="1552.2">runtime</tspan><tspan x="1552.2" dy="17.4">newobject</tspan><tspan x="1552.2" dy="17.4">20ms (2.02%)</tspan><tspan x="1552.2" dy="17.4">of 50ms (5.05%)</tspan></text></g>
<g id="n48"><rect class="c10" x="1653.8" y="1453.4" width="125.3" height="58.9"/><text class="f11" y="1471.65"><tspan x="1716.45">context</tspan><tspan x="1716.45" dy="15.9">value</tspan><tspan x="1716.45" dy="15.9">10ms (1.01%)</tspan></text></g>
<g id="n49"><rect class="c10" x="1939.5" y="1453.4" width="217.7" height="58.9"/><text class="f11" y="1471.65"><tspan x="2048.35">text</tspan><tspan x="2048.35" dy="15.9">indexNeedEscapeInString</tspan><tspan x="2048.35" dy="15.9">10ms (1.01%)</tspan></text></g>
<g id="n50"><rect class="c10" x="4.9" y="1591.8" width="129.7" height="74.7"/><text class="f11" y="1610"><tspan x="69.75">transport</tspan><tspan x="69.75" dy="15.9">(*loopyWriter)</tspan><tspan x="69.75" dy="15.9">processData</tspan><tspan x="69.75" dy="15.9">10ms (1.01%)</tspan></text></g>
<g id="n51"><rect class="c120" x="158.9" y="1599.7" width="133.7" height="58.9"/><text class="f8" y="1614.7"><tspan x="225.75">poll</tspan><tspan x="225.75" dy="11.95">(*FD)</tspan><tspan x="225.75" dy="11.95">Write</tspan><tspan x="225.75" dy="11.95">0 of 120ms (12.12%)</tspan></text></g>
<g id="n52"><rect class="c10" x="316.4" y="1591.8" width="125.8" height="74.7"/><text class="f11" y="1610"><tspan x="379.3">fmt</tspan><tspan x="379.3" dy="15.9">(*pp)</tspan><tspan x="379.3" dy="15.9">fmtString</tspan><tspan x="379.3" dy="15.9">10ms (1.01%)</tspan></text></g>
<g id="n53"><rect class="c40" x="466.5" y="1599.7" width="118.6" height="58.9"/><text class="f8" y="1614.7"><tspan x="525.8">net</tspan><tspan x="525.8" dy="11.95">(*conn)</tspan><tspan x="525.8" dy="11.95">Read</tspan><tspan x="525.8" dy="11.95">0 of 40ms (4.04%)</tspan></text></g>
<g id="n54"><rect class="c330" x="856.3" y="1591.8" width="162.8" height="74.7"/><text class="f11" y="1610"><tspan x="937.7">runtime</tspan><tspan x="937.7" dy="15.9">park_m</tspan><tspan x="937.7" dy="15.9">10ms (1.01%)</tspan><tspan x="937.7" dy="15.9">of 330ms (33.33%)</tspan></text></g>
<g id="n55"><rect class="c20" x="1237.3" y="1597.6" width="131.7" height="62.6"/><text class="f12" y="1616.7"><tspan x="1303.15">runtime</tspan><tspan x="1303.15" dy="17.4">memmove</tspan><tspan x="1303.15" dy="17.4">20ms (2.02%)</tspan></text></g>
<g id="n56"><rect class="c30" x="1392.8" y="1605.5" width="119.1" height="47.7"/><text class="f8" y="1620.85"><tspan x="1452.35">runtime</tspan><tspan x="1452.35" dy="11.95">gcBgMarkWorker</tspan><tspan x="1452.35" dy="11.95">0 of 30ms (3.03%)</tspan></text></g>
<g id="n57"><rect class="c70" x="1559" y="1591.8" width="144.3" height="75.1"/><text class="f11" y="1610.2"><tspan x="1631.15">runtime</tspan><tspan x="1631.15" dy="15.9">mallocgc</tspan><tspan x="1631.15" dy="15.9">10ms (1.01%)</tspan><tspan x="1631.15" dy="15.9">of 70ms (7.07%)</tspan></text></g>
<g id="n58"><rect class="c150" x="459.3" y="1775.5" width="133.1" height="48.1"/><text class="f8" y="1791.05"><tspan x="525.85">poll</tspan><tspan x="525.85" dy="11.95">ignoringEINTRIO</tspan><tspan x="525.85" dy="11.95">0 of 150ms (15.15%)</tspan></text></g>
<g id="n59"><rect class="c310" x="870.9" y="1775.5" width="133.6" height="48.1"/><text class="f8" y="1791.05"><tspan x="937.7">runtime</tspan><tspan x="937.7" dy="11.95">schedule</tspan><tspan x="937.7" dy="11.95">0 of 310ms (31.31%)</tspan></text></g>
<g id="n60"><rect class="c110" x="1385.5" y="1775.5" width="133.7" height="48.1"/><text class="f8" y="1791.05"><tspan x="1452.35">runtime</tspan><tspan x="1452.35" dy="11.95">systemstack</tspan><tspan x="1452.35" dy="11.95">0 of 110ms (11.11%)</tspan></text></g>
<g id="n61"><rect class="c20" x="1565.3" y="1768.4" width="131.7" height="62.6"/><text class="f12" y="1787.5"><tspan x="1631.15">runtime</tspan><tspan x="1631.15" dy="17.4">nextFreeFast</tspan><tspan x="1631.15" dy="17.4">20ms (2.02%)</tspan></text></g>
<g id="n62"><rect class="c20" x="1721.3" y="1754.3" width="144.8" height="90.8"/><text class="f11" y="1772.6"><tspan x="1793.7">runtime</tspan><tspan x="1793.7" dy="15.9">(*mcache)</tspan><tspan x="1793.7" dy="15.9">nextFree</tspan><tspan x="1793.7" dy="15.9">10ms (1.01%)</tspan><tspan x="1793.7" dy="15.9">of 20ms (2.02%)</tspan></text></g>
<g id="n63"><rect class="c150" x="459.3" y="1926.4" width="133.1" height="48.5"/><text class="f8" y="1942.15"><tspan x="525.85">syscall</tspan><tspan x="525.85" dy="11.95">Syscall</tspan><tspan x="525.85" dy="11.95">0 of 150ms (15.15%)</tspan></text></g>
<g id="n64"><rect class="c20" x="641.5" y="1921" width="119.1" height="58.9"/><text class="f8" y="1935.95"><tspan x="701.05">singleflight</tspan><tspan x="701.05" dy="11.95">(*Group)</tspan><tspan x="701.05" dy="11.95">doCall</tspan><tspan x="701.05" dy="11.95">0 of 20ms (2.02%)</tspan></text></g>
<g id="n65"><rect class="c300" x="856.3" y="1913.1" width="162.8" height="75.1"/><text class="f11" y="1931.5"><tspan x="937.7">runtime</tspan><tspan x="937.7" dy="15.9">findRunnable</tspan><tspan x="937.7" dy="15.9">10ms (1.01%)</tspan><tspan x="937.7" dy="15.9">of 300ms (30.30%)</tspan></text></g>
<g id="n66"><rect class="c70" x="1392.8" y="1926.4" width="119.1" height="48.1"/><text class="f8" y="1942"><tspan x="1452.35">runtime</tspan><tspan x="1452.35" dy="11.95">tracebackPCs</tspan><tspan x="1452.35" dy="11.95">0 of 70ms (7.07%)</tspan></text></g>
<g id="n67"><rect class="c30" x="1535.7" y="1926.4" width="119" height="48.5"/><text class="f8" y="1942.15"><tspan x="1595.2">runtime</tspan><tspan x="1595.2" dy="11.95">scanobject</tspan><tspan x="1595.2" dy="11.95">0 of 30ms (3.03%)</tspan></text></g>
<g id="n68"><rect class="c170" x="459.3" y="2097" width="133.1" height="48.1"/><text class="f8" y="2112.55"><tspan x="525.85">syscall</tspan><tspan x="525.85" dy="11.95">RawSyscall6</tspan><tspan x="525.85" dy="11.95">0 of 170ms (17.17%)</tspan></text></g>
<g id="n69"><rect class="c10" x="616.7" y="2083.7" width="215.8" height="74.7"/><text class="f11" y="2101.9"><tspan x="724.6">net</tspan><tspan x="724.6" dy="15.9">(*Resolver)</tspan><tspan x="724.6" dy="15.9">goLookupIPCNAMEOrder</tspan><tspan x="724.6" dy="15.9">10ms (1.01%)</tspan></text></g>
<g id="n70"><rect class="c200" x="856.3" y="2083.7" width="162.8" height="74.7"/><text class="f11" y="2101.9"><tspan x="937.7">syscall</tspan><tspan x="937.7" dy="15.9">EpollWait</tspan><tspan x="937.7" dy="15.9">10ms (1.01%)</tspan><tspan x="937.7" dy="15.9">of 200ms (20.20%)</tspan></text></g>
<g id="n71"><rect class="c20" x="1043.9" y="2089.9" width="132.1" height="63.1"/><text class="f12" y="2109.25"><tspan x="1109.95">runtime</tspan><tspan x="1109.95" dy="17.4">unlock2</tspan><tspan x="1109.95" dy="17.4">20ms (2.02%)</tspan></text></g>
<g id="n72"><rect class="c50" x="1200.3" y="2083.7" width="144.4" height="74.7"/><text class="f11" y="2101.9"><tspan x="1272.5">runtime</tspan><tspan x="1272.5" dy="15.9">checkTimers</tspan><tspan x="1272.5" dy="15.9">10ms (1.01%)</tspan><tspan x="1272.5" dy="15.9">of 50ms (5.05%)</tspan></text></g>
<g id="n73"><rect class="c20" x="1368.5" y="2081.2" width="165.7" height="80.1"/><text class="f12" y="2100.35"><tspan x="1451.35">runtime</tspan><tspan x="1451.35" dy="17.4">(*inlineUnwinder)</tspan><tspan x="1451.35" dy="17.4">srcFunc</tspan><tspan x="1451.35" dy="17.4">20ms (2.02%)</tspan></text></g>
<g id="n74"><rect class="c50" x="1557.5" y="2075.4" width="144.4" height="91.3"/><text class="f11" y="2093.95"><tspan x="1629.7">runtime</tspan><tspan x="1629.7" dy="15.9">(*unwinder)</tspan><tspan x="1629.7" dy="15.9">next</tspan><tspan x="1629.7" dy="15.9">10ms (1.01%)</tspan><tspan x="1629.7" dy="15.9">of 50ms (5.05%)</tspan></text></g>
<g id="n75"><rect class="c20" x="1726.2" y="2083.7" width="143.8" height="75.1"/><text class="f11" y="2102.1"><tspan x="1798.1">runtime</tspan><tspan x="1798.1" dy="15.9">findObject</tspan><tspan x="1798.1" dy="15.9">10ms (1.01%)</tspan><tspan x="1798.1" dy="15.9">of 20ms (2.02%)</tspan></text></g>
<g id="n76"><rect class="c360" x="796.5" y="2234.8" width="282.8" height="114.6"/><text class="f24" y="2268.1"><tspan x="937.9">syscall</tspan><tspan x="937.9" dy="34.3">Syscall6</tspan><tspan x="937.9" dy="34.3">360ms (36.36%)</tspan></text></g>
<g id="n77"><rect class="c40" x="1200.3" y="2254.7" width="144.4" height="74.3"/><text class="f11" y="2272.7"><tspan x="1272.5">runtime</tspan><tspan x="1272.5" dy="15.9">runtimer</tspan><tspan x="1272.5" dy="15.9">10ms (1.01%)</tspan><tspan x="1272.5" dy="15.9">of 40ms (4.04%)</tspan></text></g>
<g id="n78"><rect class="c30" x="1553.2" y="2251.8" width="153.5" height="80.2"/><text class="f12" y="2271"><tspan x="1629.95">runtime</tspan><tspan x="1629.95" dy="17.4">pcvalue</tspan><tspan x="1629.95" dy="17.4">20ms (2.02%)</tspan><tspan x="1629.95" dy="17.4">of 30ms (3.03%)</tspan></text></g>
<g id="n79"><rect class="c30" x="1213" y="2417.5" width="119.1" height="47.7"/><text class="f8" y="2432.85"><tspan x="1272.55">runtime</tspan><tspan x="1272.55" dy="11.95">runOneTimer</tspan><tspan x="1272.55" dy="11.95">0 of 30ms (3.03%)</tspan></text></g>
<g id="n80"><rect class="c20" x="1206.7" y="2532.9" width="131.7" height="63.1"/><text class="f12" y="2552.25"><tspan x="1272.55">time</tspan><tspan x="1272.55" dy="17.4">Now</tspan><tspan x="1272.55" dy="17.4">20ms (2.02%)</tspan></text></g>
</g>
</svg>
